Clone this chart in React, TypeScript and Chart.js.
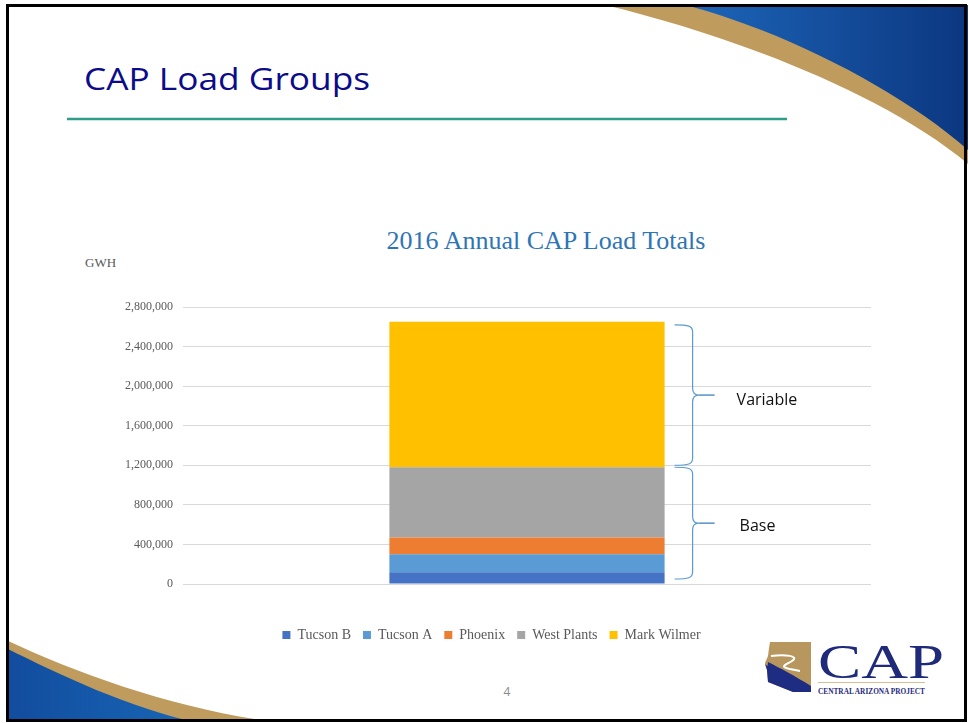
import React, { useEffect, useRef } from "react";
import { Chart, registerables } from "chart.js";

Chart.register(...registerables);

// ---- data ----
const categories = ["2016"];
const seriesNames = ["Tucson B", "Tucson A", "Phoenix", "West Plants", "Mark Wilmer"];
const tucsonB = [120000];
const tucsonA = [180000];
const phoenix = [170000];
const westPlants = [710000];
const markWilmer = [1470000];
const seriesColors = ["#4472C4", "#5B9BD5", "#ED7D31", "#A5A5A5", "#FFC000"];
const yMin = 0;
const yMax = 2800000;
const yStep = 400000;
const groupNames = ["Base", "Variable"];

const serif = "'Liberation Serif', 'Times New Roman', serif";
const sans = "'Open Sans', 'Noto Sans', sans-serif";

const bracePlugin = {
  id: "loadBraces",
  afterDatasetsDraw(chart: any) {
    const ctx = chart.ctx as CanvasRenderingContext2D;
    const y = chart.scales.y;
    const bar = chart.getDatasetMeta(0).data[0] as any;
    if (!bar) return;
    const right = bar.x + bar.width / 2;
    const base = tucsonB[0] + tucsonA[0] + phoenix[0] + westPlants[0];
    const total = base + markWilmer[0];
    const groups = [
      { label: groupNames[0], top: y.getPixelForValue(base), bottom: y.getPixelForValue(0) - 5, tx: 75, ty: 8 },
      { label: groupNames[1], top: y.getPixelForValue(total) + 3, bottom: y.getPixelForValue(base) - 2, tx: 72, ty: 10 },
    ];
    ctx.save();
    for (const g of groups) {
      const x0 = right + 10;
      const x1 = right + 28;
      const xt = right + 50;
      const mid = (g.top + g.bottom) / 2;
      const r = 7;
      ctx.strokeStyle = "#5B9BD5";
      ctx.lineWidth = 1.2;
      ctx.beginPath();
      ctx.moveTo(x0, g.top);
      ctx.bezierCurveTo(x1 - 4, g.top, x1, g.top + 1, x1, g.top + r);
      ctx.lineTo(x1, mid - r);
      ctx.quadraticCurveTo(x1, mid, x1 + 6, mid);
      ctx.quadraticCurveTo(x1, mid, x1, mid + r);
      ctx.lineTo(x1, g.bottom - r);
      ctx.bezierCurveTo(x1, g.bottom - 1, x1 - 4, g.bottom, x0, g.bottom);
      ctx.stroke();
      ctx.strokeStyle = "#2E75B6";
      ctx.beginPath();
      ctx.moveTo(x1 + 6, mid);
      ctx.lineTo(xt, mid);
      ctx.stroke();
      ctx.fillStyle = "#111111";
      ctx.font = `16px ${sans}`;
      ctx.textAlign = "left";
      ctx.textBaseline = "alphabetic";
      ctx.fillText(g.label, right + g.tx, mid + g.ty);
    }
    ctx.restore();
  },
};

export default function App() {
  const ref = useRef<HTMLCanvasElement>(null);

  useEffect(() => {
    const seriesData = [tucsonB, tucsonA, phoenix, westPlants, markWilmer];
    const chart = new Chart(ref.current as HTMLCanvasElement, {
      type: "bar",
      data: {
        labels: categories,
        datasets: seriesNames.map((name, i) => ({
          label: name,
          data: seriesData[i],
          backgroundColor: seriesColors[i],
          borderWidth: 0,
          barPercentage: 0.4,
          categoryPercentage: 1.0,
        })),
      },
      options: {
        animation: false,
        responsive: false,
        maintainAspectRatio: false,
        layout: { padding: { left: 112, right: 98, top: 307, bottom: 71 } },
        plugins: {
          title: { display: false },
          tooltip: { enabled: false },
          legend: {
            position: "bottom",
            labels: {
              boxWidth: 8,
              boxHeight: 8,
              padding: 12,
              color: "#595959",
              font: { family: serif, size: 14 },
            },
          },
        },
        scales: {
          x: {
            stacked: true,
            grid: { display: false },
            border: { display: false },
            ticks: { display: false },
            afterFit: (s: any) => {
              s.height = 32;
            },
          },
          y: {
            stacked: true,
            min: yMin,
            max: yMax,
            ticks: {
              stepSize: yStep,
              padding: 10,
              color: "#595959",
              font: { family: serif, size: 12 },
              callback: (v: any) => Number(v).toLocaleString("en-US"),
            },
            grid: { color: "#D9D9D9", drawTicks: false },
            border: { display: false },
            afterFit: (s: any) => {
              s.width = 71;
            },
          },
        },
      },
      plugins: [bracePlugin],
    } as any);
    return () => chart.destroy();
  }, []);

  return (
    <div
      style={{
        position: "absolute",
        left: 0,
        top: 0,
        width: 969,
        height: 723,
        background: "#ffffff",
        overflow: "hidden",
      }}
    >
      <svg width={969} height={723} style={{ position: "absolute", left: 0, top: 0 }}>
        <defs>
          <linearGradient id="blueTop" x1="0" y1="0" x2="1" y2="0">
            <stop offset="0" stopColor="#1D66BA" />
            <stop offset="1" stopColor="#0C3780" />
          </linearGradient>
          <linearGradient id="blueBot" x1="0" y1="0" x2="1" y2="0">
            <stop offset="0" stopColor="#124C9E" />
            <stop offset="1" stopColor="#1866B6" />
          </linearGradient>
        </defs>
        {/* top-right swoosh */}
        <path d="M 605 5 C 722 33 880 90 968 164 L 968 5 Z" fill="#BF9B5E" />
        <path d="M 685 5 C 782 30 900 90 968 150 L 968 5 Z" fill="url(#blueTop)" />
        {/* bottom-left swoosh */}
        <path d="M 6 640 C 80 675 180 710 275 722 L 6 722 Z" fill="#BF9B5E" />
        <path d="M 6 648 C 60 675 130 708 195 722 L 6 722 Z" fill="url(#blueBot)" />

        {/* slide title */}
        <text x={84} y={90} fontFamily={sans} fontSize={31} fill="#0C0C8A" textLength={286} lengthAdjust="spacingAndGlyphs">
          CAP Load Groups
        </text>
        <line x1={67} y1={119} x2={787} y2={119} stroke="#2E9E86" strokeWidth={2.4} />

        {/* chart title & unit */}
        <text x={546} y={249} textAnchor="middle" fontFamily={serif} fontSize={26} fill="#2E75B6">
          2016 Annual CAP Load Totals
        </text>
        <text x={85} y={267} fontFamily={serif} fontSize={13} fill="#595959">
          GWH
        </text>

        {/* page number */}
        <text x={507} y={696} textAnchor="middle" fontFamily={sans} fontSize={12} fill="#8A8A8A">
          4
        </text>

        {/* CAP logo */}
        <polygon points="770,642 811,642 811,692 793,692 768,682 767,670 765,663 768,656 769,648" fill="#B8975E" />
        <path d="M 765 664 C 772 670 790 682 808 692 L 793 692 L 768 682 L 767 670 Z" fill="#1E2C82" />
        <path d="M 768 662 C 780 668 795 676 811 686 L 811 692 L 806 692 C 792 684 778 676 767 671 Z" fill="#1E2C82" />
        <path d="M 771 656 C 785 654 800 656 792 661 C 784 666 776 667 800 671" fill="none" stroke="#ffffff" strokeWidth={2} />
        <text x={818} y={678} fontFamily={serif} fontSize={48} fill="#1F2A7A" textLength={126} lengthAdjust="spacingAndGlyphs">
          CAP
        </text>
        <line x1={818} y1={682.5} x2={925} y2={682.5} stroke="#D6BE8E" strokeWidth={1} />
        <text x={818} y={694} fontFamily={serif} fontSize={8.5} fontWeight="bold" fill="#1F2A7A" textLength={107} lengthAdjust="spacingAndGlyphs">
          CENTRAL ARIZONA PROJECT
        </text>
      </svg>
      <canvas ref={ref} width={969} height={723} style={{ position: "absolute", left: 0, top: 0, width: 969, height: 723 }} />
      <div
        style={{
          position: "absolute",
          left: 6,
          top: 4,
          width: 961,
          height: 718,
          border: "3px solid #000",
          boxSizing: "border-box",
          pointerEvents: "none",
        }}
      />
    </div>
  );
}
